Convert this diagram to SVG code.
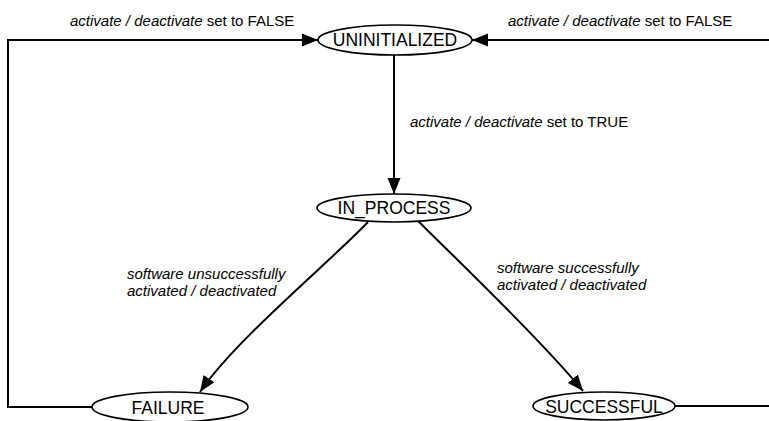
<svg xmlns="http://www.w3.org/2000/svg" width="769" height="421" viewBox="0 0 769 421">
  <style>
    .state ellipse { fill: #ffffff; stroke: #000000; stroke-width: 1.6; }
    .state text { font-family: "Liberation Sans", Arial, sans-serif; font-size: 17.5px; fill: #000000; text-anchor: middle; }
    .edge { fill: none; stroke: #000000; stroke-width: 2; }
    .label { font-family: "Liberation Sans", Arial, sans-serif; font-size: 15px; fill: #000000; }
    .label .it { font-style: italic; }
  </style>
  <defs>
    <marker id="arrow" markerUnits="userSpaceOnUse" markerWidth="16" markerHeight="14" refX="16" refY="7" orient="auto">
      <path d="M0,0.5 L16,7 L0,13.5 Z" fill="#000000"/>
    </marker>
  </defs>

  <!-- transitions -->
  <g id="connectors">
    <line class="edge" x1="394" y1="55" x2="394" y2="194" marker-end="url(#arrow)"/>
    <path class="edge" d="M368,222 C330,262 235,340 200,392" marker-end="url(#arrow)"/>
    <path class="edge" d="M418,221 C470,272 545,345 583,391" marker-end="url(#arrow)"/>
    <polyline class="edge" points="92,407 8,407 8,40 318,40" marker-end="url(#arrow)"/>
    <polyline class="edge" points="675,406 780,406 780,40 472,40" marker-end="url(#arrow)"/>
  </g>

  <!-- transition labels -->
  <g id="labels">
    <text class="label" x="70" y="26"><tspan class="it">activate / deactivate</tspan> set to FALSE</text>
    <text class="label" x="508" y="26"><tspan class="it">activate / deactivate</tspan> set to FALSE</text>
    <text class="label" x="410" y="127"><tspan class="it">activate / deactivate</tspan> set to TRUE</text>
    <text class="label it" x="127" y="279" font-style="italic">software unsuccessfully</text>
    <text class="label it" x="127" y="296" font-style="italic">activated / deactivated</text>
    <text class="label it" x="497" y="273" font-style="italic">software successfully</text>
    <text class="label it" x="497" y="290" font-style="italic">activated / deactivated</text>
  </g>

  <!-- states -->
  <g id="UNINITIALIZED" class="state">
    <ellipse cx="395" cy="40" rx="77" ry="15"/>
    <text x="395" y="46">UNINITIALIZED</text>
  </g>
  <g id="IN_PROCESS" class="state">
    <ellipse cx="394" cy="208" rx="77" ry="14"/>
    <text x="394" y="214">IN_PROCESS</text>
  </g>
  <g id="FAILURE" class="state">
    <ellipse cx="170" cy="407" rx="78" ry="15"/>
    <text x="168" y="414">FAILURE</text>
  </g>
  <g id="SUCCESSFUL" class="state">
    <ellipse cx="604" cy="406" rx="71" ry="14"/>
    <text x="604" y="413">SUCCESSFUL</text>
  </g>
</svg>
